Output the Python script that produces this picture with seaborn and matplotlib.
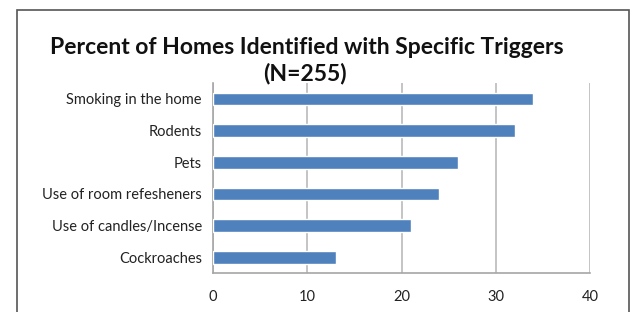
"""
Horizontal bar chart: percent of homes identified with specific triggers
"""
import matplotlib
matplotlib.use('Agg')
import matplotlib.pyplot as plt
from matplotlib.patches import Rectangle
import seaborn as sns
import pandas as pd

# ==================== data ====================
triggers = ['Smoking in the home', 'Rodents', 'Pets',
            'Use of room refesheners', 'Use of candles/Incense', 'Cockroaches']
percent = [34, 32, 26, 24, 21, 13]
x_ticks = [0, 10, 20, 30, 40]

df = pd.DataFrame({'trigger': triggers, 'percent': percent})

sns.set_style('white')
plt.rcParams['font.family'] = ['Lato', 'DejaVu Sans']

fig = plt.figure(figsize=(6.31, 3.12), dpi=100)
ax = fig.add_axes([213 / 631, 1 - 273 / 312, 377 / 631, 190 / 312])

sns.barplot(data=df, x='percent', y='trigger', order=triggers, orient='h',
            color='#4F81BD', saturation=1, width=0.4, ax=ax, zorder=3)

ax.set_xlim(0, 40)
ax.set_ylim(5.5, -0.5)
ax.set_xticks(x_ticks)
ax.set_xticklabels([str(t) for t in x_ticks], fontsize=10.5, color='#222222')
ax.set_xlabel('')
ax.set_ylabel('')
ax.tick_params(axis='y', which='major', length=0, pad=8, labelsize=10.5, labelcolor='#222222')
ax.set_yticks([i - 0.5 for i in range(len(triggers) + 1)], minor=True)
ax.tick_params(axis='y', which='minor', length=4, width=1, color='#A6A6A6', direction='out')
ax.tick_params(axis='x', which='major', length=4, width=1, color='#A6A6A6', direction='out', pad=8)

ax.xaxis.grid(True, color='#BFBFBF', linewidth=1.3, zorder=0)
ax.set_axisbelow(True)
for side in ['top', 'right']:
    ax.spines[side].set_visible(False)
for side in ['left', 'bottom']:
    ax.spines[side].set_color('#A6A6A6')
    ax.spines[side].set_linewidth(1.2)

fig.text(307 / 631, 1 - 48 / 312, 'Percent of Homes Identified with Specific Triggers',
         ha='center', va='center', fontsize=16.5, fontweight='bold', color='#111111')
fig.text(305 / 631, 1 - 74 / 312, '(N=255)',
         ha='center', va='center', fontsize=16.5, fontweight='bold', color='#111111')

# outer chart frame
fig.patches.append(Rectangle((17 / 631, -0.1), 612 / 631, 1.1 - 10 / 312,
                             transform=fig.transFigure, fill=False,
                             edgecolor='#555555', linewidth=1.2))

fig.savefig('out.png', dpi=100)
plt.close(fig)
